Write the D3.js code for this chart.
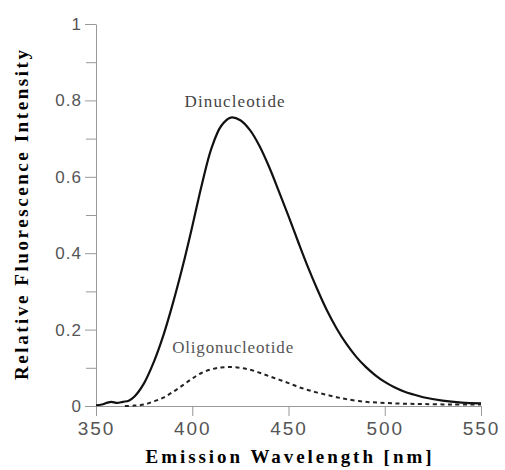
<!DOCTYPE html>
<html>
<head>
<meta charset="utf-8">
<script src="https://d3js.org/d3.v7.min.js"></script>
<style>
  body { margin: 0; background: #fff; }
  .axis path, .axis line { stroke: #999; }
  .axis text { fill: #555; font-family: "Liberation Sans", Arial, sans-serif; }
</style>
</head>
<body>
<div id="chart-area"></div>
<script>
// Emission spectra, wavelength in nm, relative intensity
var diWave = [350, 353, 356, 358, 361, 364, 367, 370, 375, 380, 385, 390, 395, 400, 405, 410, 415, 420, 425, 430, 435, 440, 445, 450, 455, 460, 465, 470, 475, 480, 485, 490, 495, 500, 505, 510, 515, 520, 530, 540, 550];
var diValue = [0.002, 0.004, 0.009, 0.011, 0.008, 0.011, 0.014, 0.025, 0.06, 0.115, 0.185, 0.27, 0.365, 0.47, 0.58, 0.675, 0.733, 0.755, 0.748, 0.722, 0.68, 0.625, 0.562, 0.497, 0.43, 0.365, 0.305, 0.25, 0.203, 0.163, 0.13, 0.103, 0.081, 0.063, 0.049, 0.038, 0.03, 0.023, 0.014, 0.009, 0.007];

var oligoWave = [365, 370, 375, 380, 385, 390, 395, 400, 405, 410, 415, 420, 425, 430, 435, 440, 445, 450, 455, 460, 465, 470, 475, 480, 490, 500, 510, 520, 535, 550];
var oligoValue = [0, 0.001, 0.004, 0.012, 0.022, 0.037, 0.054, 0.072, 0.087, 0.096, 0.101, 0.102, 0.1, 0.095, 0.087, 0.078, 0.069, 0.06, 0.05, 0.042, 0.035, 0.029, 0.023, 0.018, 0.011, 0.008, 0.006, 0.005, 0.004, 0.004];

var xTicks = [350, 400, 450, 500, 550];
var yTicks = [0, 0.2, 0.4, 0.6, 0.8, 1];
var yMinorTicks = [0.1, 0.3, 0.5, 0.7, 0.9];

var margin = { left: 96, right: 24, top: 24, bottom: 64 },
    width = 505 - margin.left - margin.right,
    height = 470 - margin.top - margin.bottom;

var svg = d3.select("#chart-area").append("svg")
    .attr("width", 505)
    .attr("height", 470);

var g = svg.append("g")
    .attr("transform", "translate(" + margin.left + ", " + margin.top + ")");

// Scales
var x = d3.scaleLinear().domain([350, 550]).range([0, width]);
var y = d3.scaleLinear().domain([0, 1]).range([height, 0]);

// Axes
var xAxis = g.append("g")
    .attr("class", "x axis")
    .attr("transform", "translate(0," + height + ")")
    .call(d3.axisBottom(x).tickValues(xTicks).tickSize(10).tickSizeOuter(0).tickPadding(6));
xAxis.selectAll("text")
    .attr("font-size", "19px")
    .attr("letter-spacing", "2px");

var yAxis = g.append("g")
    .attr("class", "y axis")
    .call(d3.axisLeft(y).tickValues(yTicks).tickSize(11).tickSizeOuter(0).tickPadding(3)
        .tickFormat(function(d) { return d3.format("~g")(d); }));
yAxis.selectAll("text")
    .attr("font-size", "17px")
    .attr("letter-spacing", "1px");

g.append("g")
    .attr("class", "y axis minor")
    .call(d3.axisLeft(y).tickValues(yMinorTicks).tickSize(10).tickSizeOuter(0).tickFormat(""))
    .select(".domain").remove();

// Axis labels
g.append("text")
    .attr("x", width / 2)
    .attr("y", height + 57)
    .attr("font-family", "'Liberation Serif', 'Times New Roman', serif")
    .attr("font-weight", "bold")
    .attr("font-size", "19px")
    .attr("text-anchor", "middle")
    .attr("textLength", 286)
    .attr("lengthAdjust", "spacing")
    .text("Emission Wavelength [nm]");

g.append("text")
    .attr("transform", "rotate(-90)")
    .attr("x", -(215 - margin.top))
    .attr("y", -68)
    .attr("font-family", "'Liberation Serif', 'Times New Roman', serif")
    .attr("font-weight", "bold")
    .attr("font-size", "19px")
    .attr("text-anchor", "middle")
    .attr("textLength", 330)
    .attr("lengthAdjust", "spacing")
    .text("Relative Fluorescence Intensity");

// Lines
var line = d3.line()
    .x(function(d) { return x(d[0]); })
    .y(function(d) { return y(d[1]); })
    .curve(d3.curveCatmullRom);

g.append("path")
    .attr("fill", "none")
    .attr("stroke", "#111")
    .attr("stroke-width", 2.2)
    .attr("d", line(d3.zip(diWave, diValue)));

g.append("path")
    .attr("fill", "none")
    .attr("stroke", "#222")
    .attr("stroke-width", 2)
    .attr("stroke-dasharray", "4,3.5")
    .attr("d", line(d3.zip(oligoWave, oligoValue)));

// Curve labels
g.append("text")
    .attr("x", x(422))
    .attr("y", y(0.782))
    .attr("font-family", "'Liberation Serif', 'Times New Roman', serif")
    .attr("font-size", "17px")
    .attr("fill", "#444")
    .attr("text-anchor", "middle")
    .attr("textLength", 100)
    .attr("lengthAdjust", "spacing")
    .text("Dinucleotide");

g.append("text")
    .attr("x", x(421))
    .attr("y", y(0.138))
    .attr("font-family", "'Liberation Serif', 'Times New Roman', serif")
    .attr("font-size", "17px")
    .attr("fill", "#555")
    .attr("text-anchor", "middle")
    .attr("textLength", 121)
    .attr("lengthAdjust", "spacing")
    .text("Oligonucleotide");
</script>
</body>
</html>
